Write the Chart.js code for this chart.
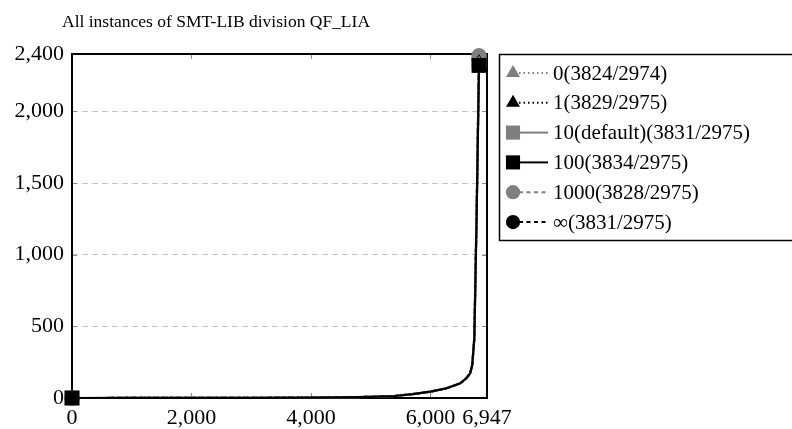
<!DOCTYPE html>
<html>
<head>
<meta charset="utf-8">
<script src="https://cdn.jsdelivr.net/npm/chart.js@4.4.1/dist/chart.umd.min.js"></script>
<style>
  html, body { margin: 0; padding: 0; background: #fff; }
</style>
</head>
<body>
<canvas id="chart" width="792" height="429"></canvas>
<script>
const titleText = 'All instances of SMT-LIB division QF_LIA';
const xTicks = [0, 2000, 4000, 6000, 6947];
const yTicks = [0, 500, 1000, 1500, 2000, 2400];

const seriesNames = ['0(3824/2974)', '1(3829/2975)', '10(default)(3831/2975)',
                     '100(3834/2975)', '1000(3828/2975)', '\u221e(3831/2975)'];

// instance index (sorted by solving time)
const instances = [0, 1000, 2000, 3000, 4000, 4500, 5000, 5400, 5700, 6000, 6270, 6500, 6600, 6665, 6700, 6735, 6775, 6813];
// time per instance, one list per setting
const time0    = [0, 0.3, 0.7, 1.5, 3, 5, 8, 14, 27, 44, 68, 102, 138, 172, 230, 420, 1320, 2330];
const time1    = [0, 0.3, 0.7, 1.5, 3, 5, 8, 14, 27, 44, 68, 102, 138, 172, 230, 420, 1320, 2340];
const time10   = [0, 0.3, 0.7, 1.5, 3, 5, 8, 14, 27, 44, 68, 102, 138, 172, 230, 420, 1330, 2350];
const time100  = [0, 0.3, 0.7, 1.5, 3, 5, 8, 14, 27, 44, 68, 102, 138, 172, 230, 420, 1310, 2320];
const time1000 = [0, 0.3, 0.7, 1.5, 3, 5, 8, 14, 27, 44, 68, 102, 138, 172, 230, 425, 1340, 2390];
const timeInf  = [0, 0.3, 0.7, 1.5, 3, 5, 8, 14, 27, 44, 68, 102, 138, 172, 230, 420, 1330, 2360];

const seriesValues = [time0, time1, time10, time100, time1000, timeInf];
const seriesColors = ['#7f7f7f', '#000000', '#7f7f7f', '#000000', '#7f7f7f', '#000000'];
const seriesDash = [[1.5, 3], [1.5, 3], [], [], [4, 3.5], [4, 3.5]];
const seriesMarks = ['triangle', 'triangle', 'rect', 'rect', 'circle', 'circle'];
const markRadius = { triangle: 8.5, rect: 10.5, circle: 7.5 };

const tickFont = { family: 'Liberation Serif', size: 22 };

function endPointRadius(mark, n) {
  return ctx => (ctx.dataIndex === 0 || ctx.dataIndex === n - 1) ? markRadius[mark] : 0;
}

const datasets = seriesValues.map((vals, i) => ({
  label: seriesNames[i],
  data: vals.map((v, j) => ({ x: instances[j], y: v })),
  borderColor: seriesColors[i],
  backgroundColor: seriesColors[i],
  borderWidth: 2.2,
  borderDash: seriesDash[i],
  pointStyle: seriesMarks[i],
  pointRadius: endPointRadius(seriesMarks[i], vals.length),
  pointBorderWidth: 0,
  pointBackgroundColor: seriesColors[i],
  tension: 0,
  clip: false,
  order: i === 3 ? 0 : 1
}));

// frame, inner tick marks, title and the legend box
const decorations = {
  id: 'decorations',
  beforeDatasetsDraw(chart) {
    const { ctx, chartArea: a, scales } = chart;
    ctx.save();
    ctx.strokeStyle = '#8c8c8c';
    ctx.lineWidth = 1;
    ctx.setLineDash([]);
    xTicks.forEach(v => {
      const px = Math.round(scales.x.getPixelForValue(v)) + 0.5;
      ctx.beginPath();
      ctx.moveTo(px, a.bottom); ctx.lineTo(px, a.bottom - 5);
      ctx.moveTo(px, a.top); ctx.lineTo(px, a.top + 5);
      ctx.stroke();
    });
    yTicks.forEach(v => {
      const py = Math.round(scales.y.getPixelForValue(v)) + 0.5;
      ctx.beginPath();
      ctx.moveTo(a.left, py); ctx.lineTo(a.left + 5, py);
      ctx.moveTo(a.right, py); ctx.lineTo(a.right - 5, py);
      ctx.stroke();
    });
    ctx.strokeStyle = '#000';
    ctx.lineWidth = 2;
    ctx.strokeRect(a.left, a.top, a.right - a.left, a.bottom - a.top);
    ctx.restore();
  },
  afterDraw(chart) {
    const { ctx } = chart;
    ctx.save();
    ctx.fillStyle = '#000';
    ctx.font = '17.5px "Liberation Serif"';
    ctx.textBaseline = 'alphabetic';
    ctx.textAlign = 'left';
    ctx.fillText(titleText, 62, 27);

    // legend
    ctx.fillStyle = '#fff';
    ctx.fillRect(499, 54, 300, 186);
    ctx.strokeStyle = '#000';
    ctx.lineWidth = 1.5;
    ctx.strokeRect(499.5, 54.5, 300, 186);
    ctx.font = '21px "Liberation Serif"';
    ctx.textBaseline = 'middle';
    seriesNames.forEach((name, i) => {
      const y = 73 + 29.8 * i;
      ctx.strokeStyle = seriesColors[i];
      ctx.lineWidth = 2;
      ctx.setLineDash(seriesDash[i]);
      ctx.beginPath();
      ctx.moveTo(519, y); ctx.lineTo(548, y);
      ctx.stroke();
      ctx.setLineDash([]);
      ctx.fillStyle = seriesColors[i];
      Chart.helpers.drawPoint(ctx, {
        pointStyle: seriesMarks[i], radius: markRadius[seriesMarks[i]] * 0.95,
        rotation: 0, borderWidth: 0
      }, 513, y);
      ctx.fillStyle = '#000';
      ctx.fillText(name, 553, y + 1);
    });
    ctx.restore();
  }
};

new Chart(document.getElementById('chart'), {
  type: 'line',
  data: { datasets },
  options: {
    responsive: false,
    animation: false,
    events: [],
    layout: { padding: { top: 54, right: 305, left: 0, bottom: 0 } },
    plugins: { legend: { display: false }, title: { display: false }, tooltip: { enabled: false } },
    scales: {
      x: {
        type: 'linear',
        min: 0,
        max: 6947,
        afterBuildTicks: s => { s.ticks = xTicks.map(v => ({ value: v })); },
        afterFit: s => { s.height = 31; },
        grid: { display: false, drawTicks: false },
        border: { display: false },
        ticks: { color: '#000', font: tickFont, padding: 7, maxRotation: 0, autoSkip: false }
      },
      y: {
        type: 'linear',
        min: 0,
        max: 2400,
        afterBuildTicks: s => { s.ticks = yTicks.map(v => ({ value: v })); },
        afterFit: s => { s.width = 72; },
        grid: { color: '#c4c4c4', lineWidth: 1, drawTicks: false },
        border: { display: false, dash: [6, 4] },
        ticks: { color: '#000', font: tickFont, padding: 8, autoSkip: false }
      }
    }
  },
  plugins: [decorations]
});
</script>
</body>
</html>
